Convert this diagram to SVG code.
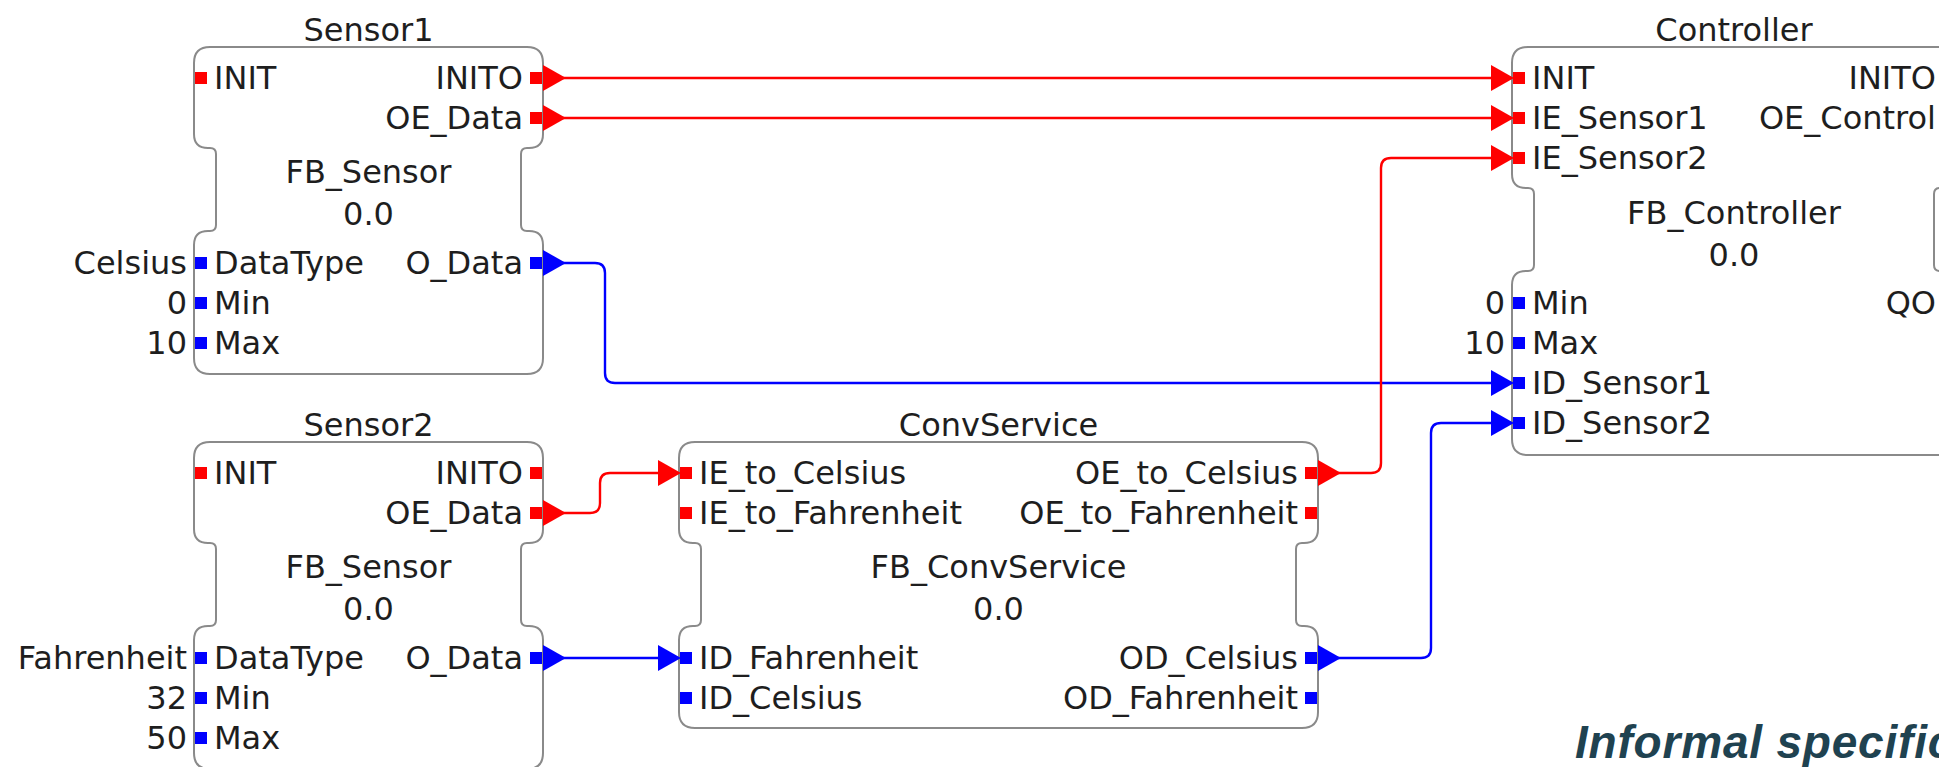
<svg xmlns="http://www.w3.org/2000/svg" xmlns:xlink="http://www.w3.org/1999/xlink" width="1939" height="767" viewBox="0 0 1939 767">
  <style>
    .box { fill: #ffffff; stroke: #8a8a8a; stroke-width: 2; }
    .t { font-family: "DejaVu Sans", "Liberation Sans", sans-serif; font-size: 32px; fill: #1e1e1e; }
    .mid { text-anchor: middle; }
    .end { text-anchor: end; }
    .ev { fill: #ff0000; }
    .dt { fill: #0000ff; }
    .wire { fill: none; stroke-width: 2.4; }
    .wire.ev { stroke: #ff0000; fill: none; }
    .wire.dt { stroke: #0000ff; fill: none; }
    .note { font-family: "Liberation Sans", Arial, sans-serif; font-size: 46px; font-weight: bold; font-style: italic; fill: #1f4250; letter-spacing: 0.8px; }
  </style>
  <defs>
    <!-- port square, centred vertically on the row -->
    <rect id="port" x="0" y="-6" width="12" height="12"/>
    <!-- arrowhead, base at x=0 pointing right -->
    <path id="tip" d="M0,-13 L23,0 L0,13 Z"/>
  </defs>

  <rect width="1939" height="767" fill="#ffffff"/>

  <!-- connections -->
  <g id="connections">
    <path class="wire ev" d="M543,78 H1512"/>
    <path class="wire ev" d="M543,118 H1512"/>
    <path class="wire dt" d="M543,263 H595 Q605,263 605,273 V373 Q605,383 615,383 H1512"/>
    <path class="wire ev" d="M543,513 H590 Q600,513 600,503 V483 Q600,473 610,473 H679"/>
    <path class="wire dt" d="M543,658 H679"/>
    <path class="wire ev" d="M1318,473 H1371 Q1381,473 1381,463 V168 Q1381,158 1391,158 H1512"/>
    <path class="wire dt" d="M1318,658 H1421 Q1431,658 1431,648 V433 Q1431,423 1441,423 H1512"/>
  </g>

  <!-- Sensor1 -->
  <g id="sensor1">
    <path class="box" d="M210,47 H527 Q543,47 543,63 V134 Q543,148 529,148 H527 Q521,148 521,154 V225 Q521,231 527,231 H529 Q543,231 543,245 V358 Q543,374 527,374 H210 Q194,374 194,358 V245 Q194,231 208,231 H210 Q216,231 216,225 V154 Q216,148 210,148 H208 Q194,148 194,134 V63 Q194,47 210,47 Z"/>
    <text class="t mid" x="368.5" y="41">Sensor1</text>
    <text class="t" x="214" y="89">INIT</text>
    <text class="t end" x="523" y="89">INITO</text>
    <text class="t end" x="523" y="129">OE_Data</text>
    <text class="t mid" x="368.5" y="183">FB_Sensor</text>
    <text class="t mid" x="368.5" y="225">0.0</text>
    <text class="t" x="214" y="274">DataType</text>
    <text class="t end" x="523" y="274">O_Data</text>
    <text class="t" x="214" y="314">Min</text>
    <text class="t" x="214" y="354">Max</text>
    <text class="t end" x="187" y="274">Celsius</text>
    <text class="t end" x="187" y="314">0</text>
    <text class="t end" x="187" y="354">10</text>
    <use xlink:href="#port" class="ev" x="195" y="78"/>
    <use xlink:href="#port" class="ev" x="530" y="78"/>
    <use xlink:href="#port" class="ev" x="530" y="118"/>
    <use xlink:href="#port" class="dt" x="195" y="263"/>
    <use xlink:href="#port" class="dt" x="195" y="303"/>
    <use xlink:href="#port" class="dt" x="195" y="343"/>
    <use xlink:href="#port" class="dt" x="530" y="263"/>
    <use xlink:href="#tip" class="ev" x="543" y="78"/>
    <use xlink:href="#tip" class="ev" x="543" y="118"/>
    <use xlink:href="#tip" class="dt" x="543" y="263"/>
  </g>

  <!-- Sensor2 -->
  <g id="sensor2">
    <path class="box" d="M210,442 H527 Q543,442 543,458 V529 Q543,543 529,543 H527 Q521,543 521,549 V620 Q521,626 527,626 H529 Q543,626 543,640 V753 Q543,769 527,769 H210 Q194,769 194,753 V640 Q194,626 208,626 H210 Q216,626 216,620 V549 Q216,543 210,543 H208 Q194,543 194,529 V458 Q194,442 210,442 Z"/>
    <text class="t mid" x="368.5" y="436">Sensor2</text>
    <text class="t" x="214" y="484">INIT</text>
    <text class="t end" x="523" y="484">INITO</text>
    <text class="t end" x="523" y="524">OE_Data</text>
    <text class="t mid" x="368.5" y="578">FB_Sensor</text>
    <text class="t mid" x="368.5" y="620">0.0</text>
    <text class="t" x="214" y="669">DataType</text>
    <text class="t end" x="523" y="669">O_Data</text>
    <text class="t" x="214" y="709">Min</text>
    <text class="t" x="214" y="749">Max</text>
    <text class="t end" x="187" y="669">Fahrenheit</text>
    <text class="t end" x="187" y="709">32</text>
    <text class="t end" x="187" y="749">50</text>
    <use xlink:href="#port" class="ev" x="195" y="473"/>
    <use xlink:href="#port" class="ev" x="530" y="473"/>
    <use xlink:href="#port" class="ev" x="530" y="513"/>
    <use xlink:href="#port" class="dt" x="195" y="658"/>
    <use xlink:href="#port" class="dt" x="195" y="698"/>
    <use xlink:href="#port" class="dt" x="195" y="738"/>
    <use xlink:href="#port" class="dt" x="530" y="658"/>
    <use xlink:href="#tip" class="ev" x="543" y="513"/>
    <use xlink:href="#tip" class="dt" x="543" y="658"/>
  </g>

  <!-- ConvService -->
  <g id="convservice">
    <path class="box" d="M695,442 H1302 Q1318,442 1318,458 V529 Q1318,543 1304,543 H1302 Q1296,543 1296,549 V620 Q1296,626 1302,626 H1304 Q1318,626 1318,640 V712 Q1318,728 1302,728 H695 Q679,728 679,712 V640 Q679,626 693,626 H695 Q701,626 701,620 V549 Q701,543 695,543 H693 Q679,543 679,529 V458 Q679,442 695,442 Z"/>
    <text class="t mid" x="998.5" y="436">ConvService</text>
    <text class="t" x="699" y="484">IE_to_Celsius</text>
    <text class="t end" x="1298" y="484">OE_to_Celsius</text>
    <text class="t" x="699" y="524">IE_to_Fahrenheit</text>
    <text class="t end" x="1298" y="524">OE_to_Fahrenheit</text>
    <text class="t mid" x="998.5" y="578">FB_ConvService</text>
    <text class="t mid" x="998.5" y="620">0.0</text>
    <text class="t" x="699" y="669">ID_Fahrenheit</text>
    <text class="t end" x="1298" y="669">OD_Celsius</text>
    <text class="t" x="699" y="709">ID_Celsius</text>
    <text class="t end" x="1298" y="709">OD_Fahrenheit</text>
    <use xlink:href="#port" class="ev" x="680" y="473"/>
    <use xlink:href="#port" class="ev" x="680" y="513"/>
    <use xlink:href="#port" class="ev" x="1305" y="473"/>
    <use xlink:href="#port" class="ev" x="1305" y="513"/>
    <use xlink:href="#port" class="dt" x="680" y="658"/>
    <use xlink:href="#port" class="dt" x="680" y="698"/>
    <use xlink:href="#port" class="dt" x="1305" y="658"/>
    <use xlink:href="#port" class="dt" x="1305" y="698"/>
    <use xlink:href="#tip" class="ev" x="658" y="473"/>
    <use xlink:href="#tip" class="dt" x="658" y="658"/>
    <use xlink:href="#tip" class="ev" x="1318" y="473"/>
    <use xlink:href="#tip" class="dt" x="1318" y="658"/>
  </g>

  <!-- Controller -->
  <g id="controller">
    <path class="box" d="M1528,47 H1940 Q1956,47 1956,63 V174 Q1956,188 1942,188 H1940 Q1934,188 1934,194 V265 Q1934,271 1940,271 H1942 Q1956,271 1956,285 V439 Q1956,455 1940,455 H1528 Q1512,455 1512,439 V285 Q1512,271 1526,271 H1528 Q1534,271 1534,265 V194 Q1534,188 1528,188 H1526 Q1512,188 1512,174 V63 Q1512,47 1528,47 Z"/>
    <text class="t mid" x="1734" y="41">Controller</text>
    <text class="t" x="1532" y="89">INIT</text>
    <text class="t end" x="1936" y="89">INITO</text>
    <text class="t" x="1532" y="129">IE_Sensor1</text>
    <text class="t end" x="1936" y="129">OE_Control</text>
    <text class="t" x="1532" y="169">IE_Sensor2</text>
    <text class="t mid" x="1734" y="224">FB_Controller</text>
    <text class="t mid" x="1734" y="266">0.0</text>
    <text class="t" x="1532" y="314">Min</text>
    <text class="t end" x="1936" y="314">QO</text>
    <text class="t" x="1532" y="354">Max</text>
    <text class="t" x="1532" y="394">ID_Sensor1</text>
    <text class="t" x="1532" y="434">ID_Sensor2</text>
    <text class="t end" x="1505" y="314">0</text>
    <text class="t end" x="1505" y="354">10</text>
    <use xlink:href="#port" class="ev" x="1513" y="78"/>
    <use xlink:href="#port" class="ev" x="1513" y="118"/>
    <use xlink:href="#port" class="ev" x="1513" y="158"/>
    <use xlink:href="#port" class="dt" x="1513" y="303"/>
    <use xlink:href="#port" class="dt" x="1513" y="343"/>
    <use xlink:href="#port" class="dt" x="1513" y="383"/>
    <use xlink:href="#port" class="dt" x="1513" y="423"/>
    <use xlink:href="#tip" class="ev" x="1491" y="78"/>
    <use xlink:href="#tip" class="ev" x="1491" y="118"/>
    <use xlink:href="#tip" class="ev" x="1491" y="158"/>
    <use xlink:href="#tip" class="dt" x="1491" y="383"/>
    <use xlink:href="#tip" class="dt" x="1491" y="423"/>
  </g>

  <text class="note" x="1575" y="758">Informal specific</text>
</svg>
